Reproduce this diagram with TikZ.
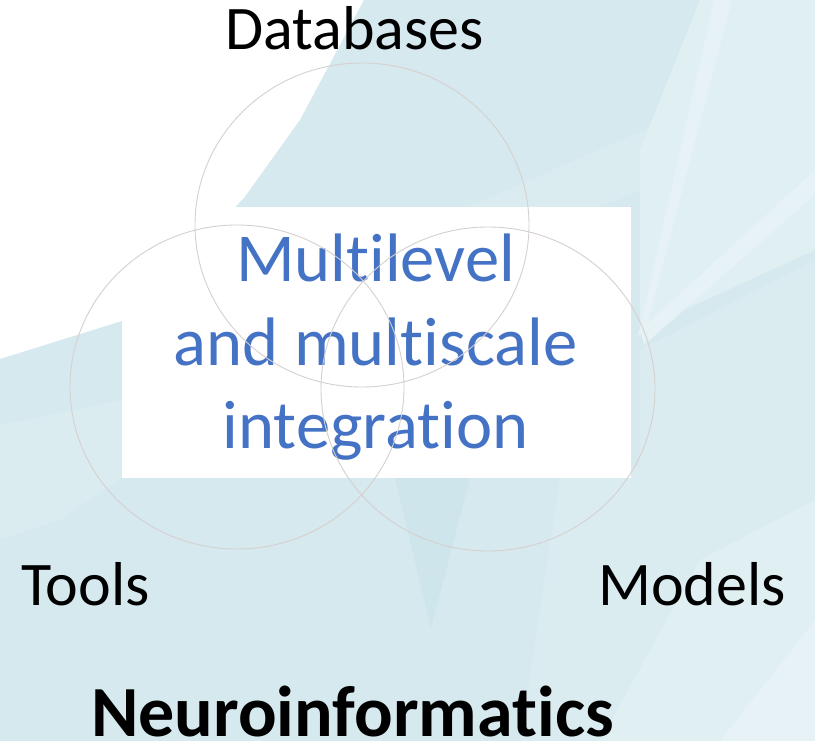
\documentclass[tikz,border=0pt]{standalone}
\usepackage{fontspec}
\setmainfont{Carlito}[Ligatures={NoCommon,NoRequired,NoContextual}]
\definecolor{tealbase}{HTML}{D5E9EE}
\definecolor{tealsoft}{HTML}{DBECF0}
\definecolor{teallight}{HTML}{E0EFF2}
\definecolor{tealpale}{HTML}{E6F2F5}
\definecolor{tealdark}{HTML}{CEE5EB}
\definecolor{ringgray}{RGB}{214,208,206}
\definecolor{titleblue}{HTML}{4472C4}
\tikzset{
  facet/.style={draw=none},
  ring/.style={draw=ringgray, line width=0.9pt},
  label/.style={inner sep=0pt, font=\fontsize{62}{74}\selectfont, text=black},
  heading/.style={inner sep=0pt, text depth=0pt, font=\fontsize{72}{86}\bfseries\selectfont, text=black},
  coreline/.style={inner sep=0pt, anchor=base, font=\fontsize{68.6}{83}\selectfont, text=titleblue},
}
\begin{document}
\begin{tikzpicture}[x=1pt,y=-1pt]
\useasboundingbox (0,0) rectangle (815,741);
\begin{scope}
\clip (0,0) rectangle (815,741);
% backdrop: white corner and faceted teal surface
\fill[white] (0,0) rectangle (815,741);
\fill[tealbase, facet] (364,0) -- (815,0) -- (815,741) -- (0,741) -- (0,359)
  -- (122,321) -- (244,198) -- (300,120) -- cycle;
% upper facets
\fill[tealsoft, facet] (468,207) -- (815,55) -- (815,120) -- (600,207) -- cycle;
\fill[teallight, facet] (700,0) -- (815,0) -- (815,250) -- (640,330) -- (640,150) -- cycle;
\fill[tealpale, facet] (714,0) -- (732,0) -- (646,330) -- (638,336) -- cycle;
\fill[tealpale, facet] (640,330) -- (815,170) -- (815,195) -- (644,345) -- cycle;
% middle right
\fill[tealsoft, facet] (640,350) -- (815,260) -- (815,440) -- (640,478) -- cycle;
% lower facets
\fill[tealsoft, facet] (520,741) -- (560,478) -- (815,440) -- (815,741) -- cycle;
\fill[teallight, facet] (600,741) -- (700,560) -- (815,500) -- (815,741) -- cycle;
\fill[tealpale, facet] (720,741) -- (815,620) -- (815,741) -- cycle;
\fill[tealdark, facet] (395,478) -- (470,478) -- (431,628) -- cycle;
\fill[tealsoft, facet] (0,425) -- (122,400) -- (122,478) -- (60,520) -- (0,540) -- cycle;
\end{scope}

% central panel
\fill[white] (122,207) rectangle (631,478);
\node[coreline] (c1) at (375.5,282) {Multilevel};
\node[coreline] (c2) at (375.5,365) {and multiscale};
\node[coreline] (c3) at (375.5,448) {integration};

% overlapping rings
\draw[ring] (362,225) ellipse [x radius=167pt, y radius=162pt];
\draw[ring] (237,387) ellipse [x radius=167pt, y radius=162pt];
\draw[ring] (488,389) ellipse [x radius=167pt, y radius=162pt];

% labels
\node[label, anchor=base] (db) at (354.5,50) {Databases};
\node[label, anchor=base west] (tools) at (21,605) {Tools};
\node[label, anchor=base west] (models) at (598,605) {Models};
\node[heading, anchor=base west] (neuro) at (91,736) {Neuroinformatics};
\end{tikzpicture}
\end{document}
